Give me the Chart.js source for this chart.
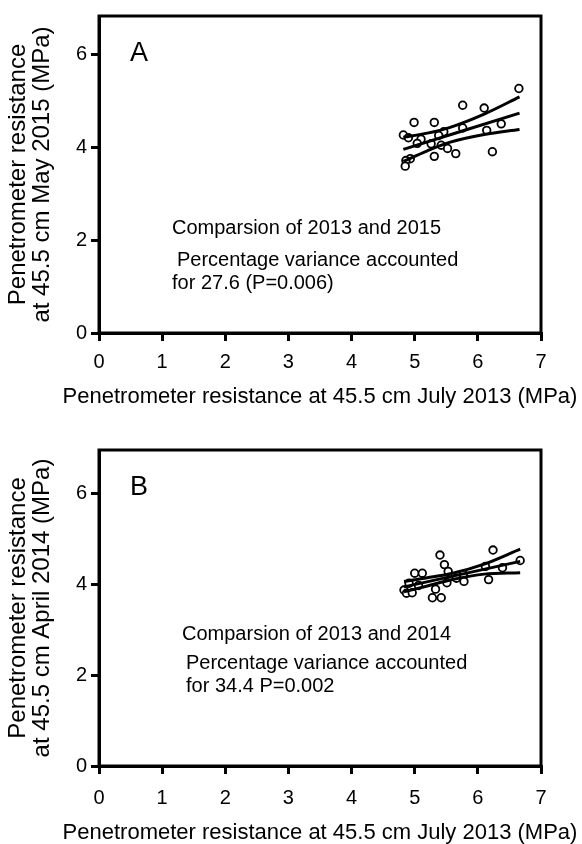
<!DOCTYPE html>
<html>
<head>
<meta charset="utf-8">
<script src="https://cdn.jsdelivr.net/npm/chart.js@4.4.1/dist/chart.umd.min.js"></script>
<style>
  html, body { margin: 0; padding: 0; background: #fff; }
  body { width: 582px; height: 844px; position: relative; overflow: hidden; }
  .panel { position: absolute; left: 0; width: 582px; }
  #panelA { top: 0; height: 416px; }
  #panelB { top: 432px; height: 412px; }
</style>
</head>
<body>
<div class="panel" id="panelA"><canvas id="chartA"></canvas></div>
<div class="panel" id="panelB"><canvas id="chartB"></canvas></div>
<script>
// x tick labels shared by both panels
const xTicks = [0, 1, 2, 3, 4, 5, 6, 7];
const yTicks = [0, 2, 4, 6];
const xTitle = 'Penetrometer resistance at 45.5 cm July 2013 (MPa)';

// Panel A: 2013 vs 2015
const xA = [6.65, 5.76, 6.10, 4.99, 5.31, 6.37, 5.76, 6.14, 5.46, 5.38, 4.82, 4.90,
            5.10, 5.04, 5.26, 5.42, 5.52, 5.65, 6.23, 5.31, 4.93, 4.86, 4.85];
const yA = [5.26, 4.90, 4.84, 4.53, 4.53, 4.50, 4.41, 4.36, 4.33, 4.25, 4.26, 4.20,
            4.17, 4.08, 4.07, 4.04, 3.97, 3.86, 3.90, 3.80, 3.75, 3.71, 3.59];
const fitXA = [4.82, 6.66];
const fitYA = [3.95, 4.73];
const bandXA = [4.82, 5.2, 5.55, 6.1, 6.66];
const upperA = [4.21, 4.30, 4.42, 4.71, 5.08];
const lowerA = [3.69, 3.92, 4.10, 4.27, 4.38];

// Panel B: 2013 vs 2014
const xB = [6.24, 5.40, 5.47, 5.00, 5.12, 5.53, 6.12, 6.67, 6.39, 5.77, 5.66, 5.78,
            6.17, 5.51, 4.91, 5.06, 5.33, 4.83, 4.87, 4.96, 5.28, 5.42];
const yB = [4.75, 4.64, 4.43, 4.24, 4.24, 4.28, 4.39, 4.52, 4.36, 4.22, 4.13, 4.06,
            4.10, 4.03, 4.02, 3.97, 3.89, 3.87, 3.80, 3.81, 3.70, 3.70];
const fitXB = [4.83, 6.67];
const fitYB = [3.94, 4.50];
const bandXB = [4.83, 5.2, 5.6, 6.1, 6.67];
const upperB = [4.06, 4.14, 4.24, 4.44, 4.77];
const lowerB = [3.83, 3.96, 4.10, 4.22, 4.25];

const FONT = "'Liberation Sans', Arial, sans-serif";

function pts(xs, ys) {
  return xs.map((x, i) => ({ x: x, y: ys[i] }));
}

// frame, panel letter, notes and the x title (wider than the plot, so not the scale title)
const boxPlugin = {
  id: 'box',
  afterDraw: (chart) => {
    const { ctx, chartArea } = chart;
    const o = chart.options.plugins.box;
    ctx.save();
    ctx.strokeStyle = '#000';
    ctx.lineWidth = 3;
    ctx.strokeRect(chartArea.left, chartArea.top, chartArea.right - chartArea.left, chartArea.bottom - chartArea.top);
    ctx.fillStyle = '#000';
    ctx.textBaseline = 'middle';
    ctx.font = '27px ' + FONT;
    ctx.fillText(o.letter, chartArea.left + 31, chartArea.top + 38);
    ctx.font = '20px ' + FONT;
    o.notes.forEach((n) => ctx.fillText(n.text, n.x, n.y));
    ctx.font = '22px ' + FONT;
    ctx.textAlign = 'center';
    ctx.fillText(xTitle, (chartArea.left + chartArea.right) / 2, o.titleY);
    ctx.restore();
  }
};

function makePanel(id, cfg) {
  const lineStyle = {
    showLine: true, borderColor: '#000', borderWidth: 3, pointRadius: 0,
    fill: false, cubicInterpolationMode: 'monotone'
  };
  return new Chart(document.getElementById(id), {
    type: 'scatter',
    data: {
      datasets: [
        Object.assign({ data: pts(cfg.fitX, cfg.fitY) }, lineStyle),
        Object.assign({ data: pts(cfg.bandX, cfg.upper) }, lineStyle),
        Object.assign({ data: pts(cfg.bandX, cfg.lower) }, lineStyle),
        {
          data: pts(cfg.x, cfg.y),
          pointRadius: 3.8,
          pointBackgroundColor: '#fff',
          pointBorderColor: '#000',
          pointBorderWidth: 1.8
        }
      ]
    },
    options: {
      responsive: true,
      maintainAspectRatio: false,
      animation: false,
      layout: { padding: { top: cfg.top, right: 41, left: 0, bottom: 0 } },
      plugins: {
        legend: { display: false },
        tooltip: { enabled: false },
        box: { letter: cfg.letter, notes: cfg.notes, titleY: cfg.titleY }
      },
      scales: {
        x: {
          type: 'linear', min: 0, max: 7,
          afterBuildTicks: (s) => { s.ticks = xTicks.map(v => ({ value: v })); },
          afterFit: (s) => { s.height = cfg.xHeight; },
          border: { color: '#000', width: 3 },
          grid: { drawOnChartArea: false, color: '#000', lineWidth: 3, tickLength: 8 },
          ticks: { color: '#000', padding: cfg.tickPad, font: { family: FONT, size: 20 } },
          title: { display: false }
        },
        y: {
          type: 'linear', min: 0, max: cfg.yMax,
          afterBuildTicks: (s) => { s.ticks = yTicks.map(v => ({ value: v })); },
          afterFit: (s) => { s.width = 99; },
          border: { color: '#000', width: 3 },
          grid: { drawOnChartArea: false, color: '#000', lineWidth: 3, tickLength: 8 },
          ticks: { color: '#000', padding: 4, font: { family: FONT, size: 20 } },
          title: {
            display: true, color: '#000',
            text: cfg.yTitle,
            font: { family: FONT, size: 24, lineHeight: 0.98 }, padding: { top: 7, bottom: 0 }
          }
        }
      }
    },
    plugins: [boxPlugin]
  });
}

makePanel('chartA', {
  x: xA, y: yA, fitX: fitXA, fitY: fitYA, bandX: bandXA, upper: upperA, lower: lowerA,
  letter: 'A', yMax: 6.82, top: 11, xHeight: 83, tickPad: 9, titleY: 397,
  yTitle: ['Penetrometer resistance', 'at 45.5 cm May 2015 (MPa)'],
  notes: [
    { text: 'Comparsion of 2013 and 2015', x: 172, y: 228 },
    { text: 'Percentage variance accounted', x: 177, y: 260 },
    { text: 'for 27.6 (P=0.006)', x: 172, y: 283 }
  ]
});

makePanel('chartB', {
  x: xB, y: yB, fitX: fitXB, fitY: fitYB, bandX: bandXB, upper: upperB, lower: lowerB,
  letter: 'B', yMax: 6.95, top: 18, xHeight: 78, tickPad: 12, titleY: 401,
  yTitle: ['Penetrometer resistance', 'at 45.5 cm April 2014 (MPa)'],
  notes: [
    { text: 'Comparsion of 2013 and 2014', x: 182, y: 202 },
    { text: 'Percentage variance accounted', x: 186, y: 231 },
    { text: 'for 34.4 P=0.002', x: 186, y: 254 }
  ]
});
</script>
</body>
</html>
